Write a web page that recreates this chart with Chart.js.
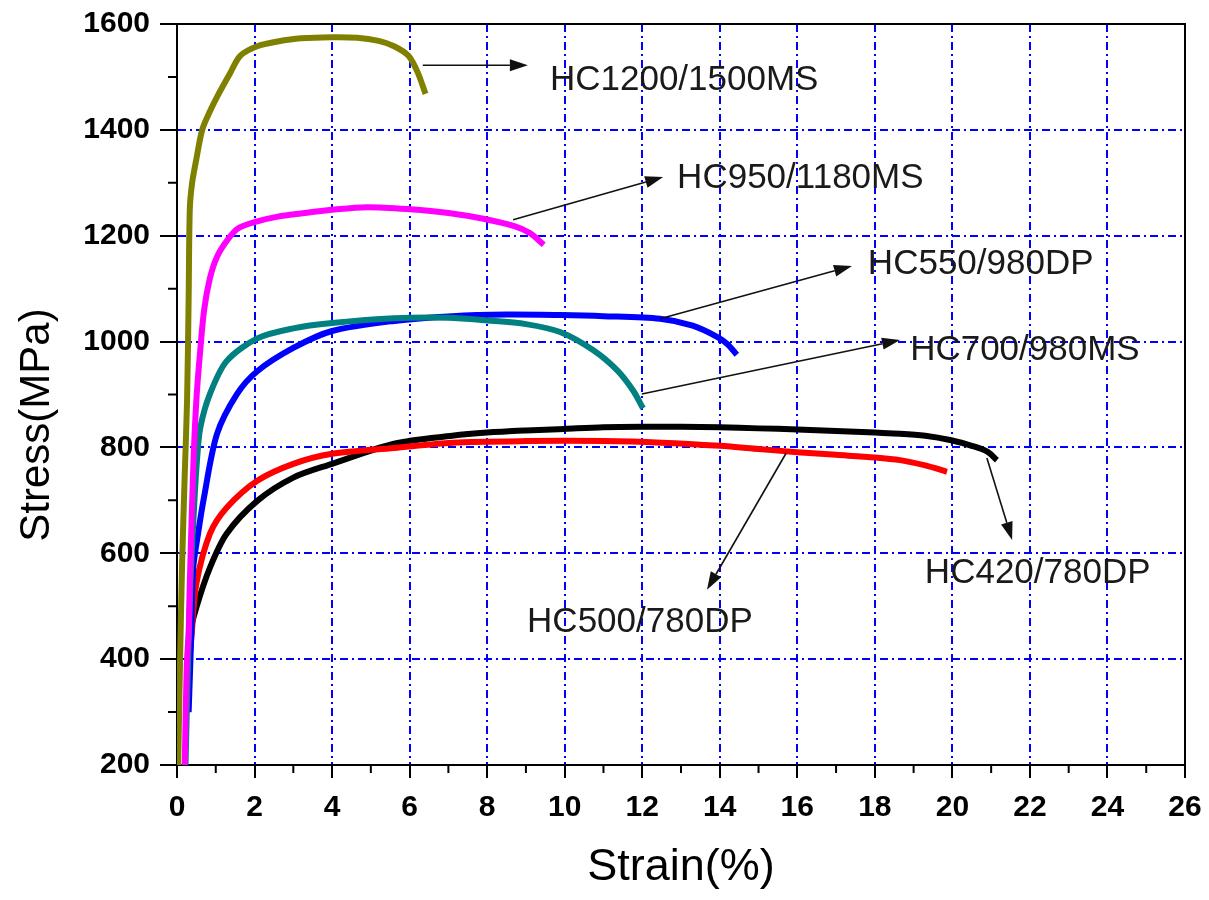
<!DOCTYPE html>
<html>
<head>
<meta charset="utf-8">
<script src="https://cdn.jsdelivr.net/npm/chart.js@4"></script>
<style>
  body { margin: 0; background: #fff; }
  #wrap { width: 1209px; height: 900px; }
</style>
</head>
<body>
<div id="wrap"><canvas id="chartStress"></canvas></div>
<script>
// stress-strain curves
const strainMS1500 = [0.03, 0.08, 0.13, 0.2, 0.26, 0.3, 0.33, 0.39, 0.5, 0.65, 0.85, 1.03, 1.37, 1.63, 2.07, 2.6, 3.2, 4, 4.65, 5.2, 5.6, 5.97, 6.2, 6.41];
const stressMS1500 = [200, 400, 575, 750, 890, 1080, 1250, 1300, 1345, 1400, 1435, 1462, 1507, 1540, 1558, 1567, 1573, 1575, 1574, 1568, 1558, 1540, 1510, 1468];

const strainMS1180 = [0.2, 0.25, 0.3, 0.33, 0.42, 0.5, 0.6, 0.7, 0.85, 1.03, 1.3, 1.58, 2.07, 2.6, 3.2, 4, 4.9, 6, 7, 7.9, 8.7, 9.1, 9.46];
const stressMS1180 = [200, 385, 450, 543, 763, 890, 984, 1060, 1120, 1160, 1192, 1214, 1227, 1236, 1242, 1249, 1254, 1250, 1243, 1232, 1218, 1205, 1183];

const strainMS980 = [0.22, 0.27, 0.35, 0.45, 0.52, 0.6, 0.85, 1.28, 2.07, 3, 4, 5.6, 7, 8, 9, 9.88, 10.73, 11.35, 11.76, 12.02];
const stressMS980 = [200, 350, 550, 700, 780, 837, 901, 963, 1006, 1025, 1035, 1044, 1045, 1040, 1033, 1018, 984, 946, 908, 874];

const strainDP980 = [0.3, 0.37, 0.42, 0.55, 0.68, 1.03, 1.55, 2.07, 3, 4, 5.6, 7.1, 8.5, 9.88, 11, 12.46, 13.3, 13.93, 14.2, 14.44];
const stressDP980 = [300, 450, 573, 640, 699, 825, 901, 944, 988, 1020, 1039, 1048, 1051, 1050, 1048, 1043, 1030, 1009, 995, 975];

const strainDP500 = [0.25, 0.3, 0.38, 0.5, 0.85, 1.28, 2.07, 3, 4, 5.6, 7.1, 9, 11, 12.5, 14, 15, 16, 17, 18, 18.65, 19.3, 19.86];
const stressDP500 = [300, 380, 449, 543, 637, 686, 737, 769, 788, 799, 809, 812, 812, 809, 803, 797, 791, 786, 781, 776, 766, 754];

const strainDP420 = [0.28, 0.34, 0.5, 0.85, 1.28, 2.07, 3, 4, 5.6, 7.1, 8, 9, 10, 11, 12, 13, 14, 15, 16, 17, 18, 18.65, 19.3, 19.94, 20.5, 20.9, 21.15];
const stressDP420 = [350, 449, 498, 573, 637, 699, 743, 769, 807, 822, 828, 832, 835, 838, 839, 839, 838, 836, 834, 831, 828, 826, 822, 814, 803, 792, 776];

const seriesNames = ['HC1200/1500MS', 'HC950/1180MS', 'HC700/980MS', 'HC550/980DP', 'HC500/780DP', 'HC420/780DP'];
const seriesColors = ['#808000', '#ff00ff', '#008080', '#0000ff', '#ff0000', '#000000'];
const strains = [strainMS1500, strainMS1180, strainMS980, strainDP980, strainDP500, strainDP420];
const stresses = [stressMS1500, stressMS1180, stressMS980, stressDP980, stressDP500, stressDP420];

const xTicks = [0, 2, 4, 6, 8, 10, 12, 14, 16, 18, 20, 22, 24, 26];
const yTicks = [200, 400, 600, 800, 1000, 1200, 1400, 1600];

// labels with arrows, in data units: text at (tx,ty), arrow from (x1,y1) to (x2,y2)
const notes = [
  { text: 'HC1200/1500MS', tx: 9.62, ty: 1494, x1: 6.34, y1: 1522, x2: 9.05, y2: 1522 },
  { text: 'HC950/1180MS', tx: 12.9, ty: 1309, x1: 8.67, y1: 1230, x2: 12.54, y2: 1311 },
  { text: 'HC550/980DP', tx: 17.82, ty: 1145, x1: 12.46, y1: 1043, x2: 17.41, y2: 1143 },
  { text: 'HC700/980MS', tx: 18.91, ty: 984, x1: 11.99, y1: 901, x2: 18.65, y2: 1003 },
  { text: 'HC420/780DP', tx: 19.29, ty: 563, x1: 20.89, y1: 780, x2: 21.54, y2: 625 },
  { text: 'HC500/780DP', tx: 9.03, ty: 470, x1: 15.71, y1: 789, x2: 13.67, y2: 531 }
];

const FONT = 'Arial, "Liberation Sans", sans-serif';

const datasets = seriesNames.map((name, i) => ({
  label: name,
  data: strains[i].map((x, j) => ({ x: x, y: stresses[i][j] })),
  borderColor: seriesColors[i],
  backgroundColor: seriesColors[i],
  borderWidth: 6,
  pointRadius: 0,
  tension: 0.3,
  borderJoinStyle: 'round',
  fill: false
}));

const extras = {
  id: 'extras',
  afterDatasetsDraw(chart) {
    const ctx = chart.ctx;
    const xs = chart.scales.x, ys = chart.scales.y;
    ctx.save();
    notes.forEach(n => {
      const ax = xs.getPixelForValue(n.x1), ay = ys.getPixelForValue(n.y1);
      const bx = xs.getPixelForValue(n.x2), by = ys.getPixelForValue(n.y2);
      const ang = Math.atan2(by - ay, bx - ax);
      const hl = 18, hw = 6;
      ctx.strokeStyle = '#111';
      ctx.lineWidth = 1.6;
      ctx.beginPath();
      ctx.moveTo(ax, ay);
      ctx.lineTo(bx - hl * Math.cos(ang), by - hl * Math.sin(ang));
      ctx.stroke();
      ctx.fillStyle = '#111';
      ctx.beginPath();
      ctx.moveTo(bx, by);
      ctx.lineTo(bx - hl * Math.cos(ang) + hw * Math.sin(ang), by - hl * Math.sin(ang) - hw * Math.cos(ang));
      ctx.lineTo(bx - hl * Math.cos(ang) - hw * Math.sin(ang), by - hl * Math.sin(ang) + hw * Math.cos(ang));
      ctx.closePath();
      ctx.fill();
      ctx.fillStyle = '#1a1a1a';
      ctx.font = '35px ' + FONT;
      ctx.textAlign = 'left';
      ctx.textBaseline = 'middle';
      ctx.fillText(n.text, xs.getPixelForValue(n.tx), ys.getPixelForValue(n.ty));
    });
    ctx.restore();
  },
  afterDraw(chart) {
    const ctx = chart.ctx;
    const a = chart.chartArea;
    const xs = chart.scales.x, ys = chart.scales.y;
    ctx.save();
    ctx.strokeStyle = '#000';
    ctx.lineWidth = 2;
    // top and right frame
    ctx.beginPath();
    ctx.moveTo(a.left, a.top);
    ctx.lineTo(a.right, a.top);
    ctx.lineTo(a.right, a.bottom);
    ctx.stroke();
    // minor ticks
    ctx.beginPath();
    for (let v = 1; v < 26; v += 2) {
      const px = xs.getPixelForValue(v);
      ctx.moveTo(px, a.bottom);
      ctx.lineTo(px, a.bottom + 8);
    }
    for (let v = 300; v < 1600; v += 200) {
      const py = ys.getPixelForValue(v);
      ctx.moveTo(a.left, py);
      ctx.lineTo(a.left - 9, py);
    }
    ctx.stroke();
    // axis titles
    ctx.fillStyle = '#000';
    ctx.font = '42px ' + FONT;
    ctx.textAlign = 'center';
    ctx.textBaseline = 'middle';
    ctx.translate(37, 425);
    ctx.rotate(-Math.PI / 2);
    ctx.fillText('Stress(MPa)', 0, 0);
    ctx.restore();
    ctx.save();
    ctx.fillStyle = '#000';
    ctx.font = '45px ' + FONT;
    ctx.textAlign = 'center';
    ctx.textBaseline = 'middle';
    ctx.fillText('Strain(%)', (a.left + a.right) / 2, 868);
    ctx.restore();
  }
};

const gridColor = (ctx, ends) => {
  const v = ctx.tick ? ctx.tick.value : null;
  return (v === ends[0] || v === ends[1]) ? 'rgba(0,0,0,0)' : '#0000ff';
};

new Chart(document.getElementById('chartStress'), {
  type: 'line',
  data: { datasets: datasets },
  plugins: [extras],
  options: {
    responsive: true,
    maintainAspectRatio: false,
    animation: false,
    layout: { padding: { top: 24, right: 24, left: 0, bottom: 0 } },
    plugins: { legend: { display: false }, tooltip: { enabled: false } },
    scales: {
      x: {
        type: 'linear',
        min: 0, max: 26,
        afterBuildTicks: s => { s.ticks = xTicks.map(v => ({ value: v })); },
        afterFit: s => { s.height = 135; s.paddingLeft = 0; s.paddingRight = 0; },
        ticks: { color: '#000', padding: 12, callback: v => String(v), font: { family: FONT, size: 30, weight: 'bold' } },
        grid: { color: c => gridColor(c, [0, 26]), lineWidth: 2, tickColor: '#000', tickLength: 13, tickWidth: 2 },
        border: { display: true, color: '#000', width: 2, dash: [8, 4, 2, 4] }
      },
      y: {
        type: 'linear',
        min: 200, max: 1600,
        afterBuildTicks: s => { s.ticks = yTicks.map(v => ({ value: v })); },
        afterFit: s => { s.width = 177; s.paddingTop = 0; s.paddingBottom = 0; },
        ticks: { color: '#000', padding: 10, callback: v => String(v), font: { family: FONT, size: 30, weight: 'bold' } },
        grid: { color: c => gridColor(c, [200, 1600]), lineWidth: 2, tickColor: '#000', tickLength: 17, tickWidth: 2 },
        border: { display: true, color: '#000', width: 2, dash: [8, 4, 2, 4] }
      }
    }
  }
});
</script>
</body>
</html>
